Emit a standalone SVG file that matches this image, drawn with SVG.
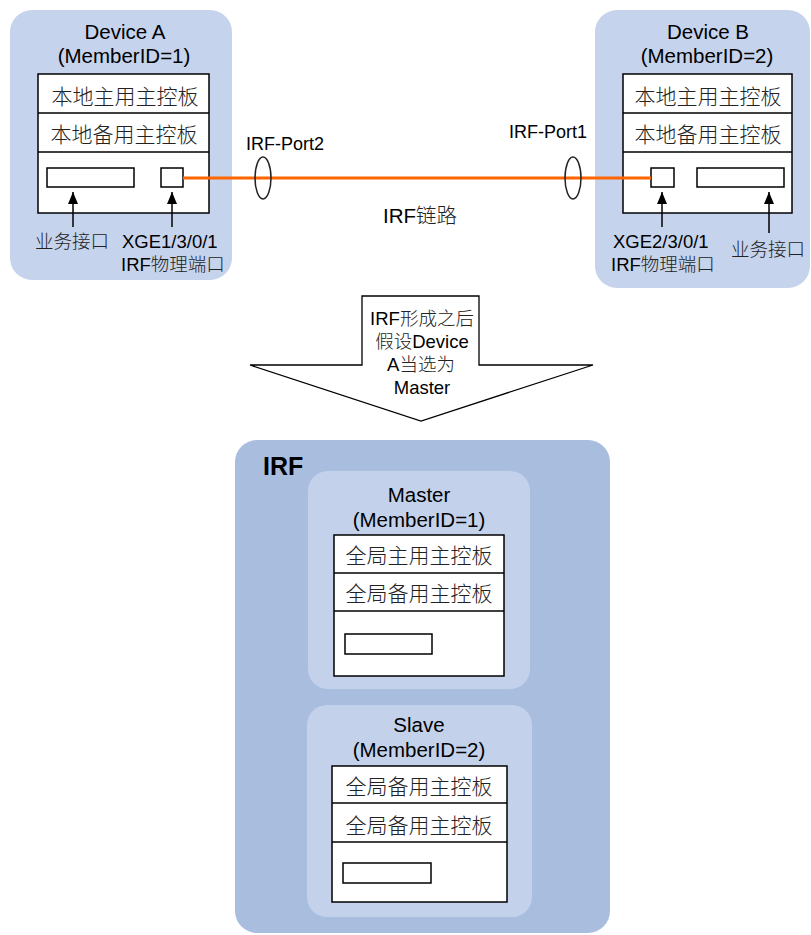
<svg xmlns="http://www.w3.org/2000/svg" width="811" height="935" viewBox="0 0 811 935">
<style>
.t{font-family:"Liberation Sans","Noto Sans CJK SC",sans-serif;fill:#000}
.c{text-anchor:middle}
.dev{fill:#C5D3EC}
.box{fill:#fff;stroke:#000;stroke-width:1.5}
.ln{stroke:#000;stroke-width:1.5;fill:none}
.cn{font-family:"Noto Sans CJK SC","Liberation Sans",sans-serif;font-weight:300;fill:#222}
</style>
<defs>
<marker id="ah" viewBox="0 0 12 10" refX="12" refY="5" markerWidth="12" markerHeight="10" markerUnits="userSpaceOnUse" orient="auto">
<path d="M0,0 L12,5 L0,10 Z" fill="#000"/>
</marker>
</defs>
<rect width="811" height="935" fill="#fff"/>

<g id="deviceA">
<rect class="dev" x="10" y="10" width="222" height="270" rx="22"/>
<text class="t c" x="125" y="39" font-size="20.5">Device A</text>
<text class="t c" x="124" y="63" font-size="20.5">(MemberID=1)</text>
<rect class="box" x="38" y="74" width="171" height="139"/>
<line class="ln" x1="38" y1="113" x2="209" y2="113"/>
<line class="ln" x1="38" y1="152" x2="209" y2="152"/>
<text class="cn c" x="125" y="104" font-size="21">本地主用主控板</text>
<text class="cn c" x="124" y="142" font-size="21">本地备用主控板</text>
<rect class="box" x="47" y="168" width="87" height="19"/>
<rect class="box" x="161" y="168" width="22" height="19"/>
<line class="ln" x1="73" y1="227" x2="73" y2="192" marker-end="url(#ah)"/>
<line class="ln" x1="172" y1="227" x2="172" y2="192" marker-end="url(#ah)"/>
<text class="cn" x="35" y="248" font-size="18.5">业务接口</text>
<text class="t" x="122" y="248" font-size="18.5">XGE1/3/0/1</text>
<text class="t" x="121" y="271" font-size="18.5">IRF<tspan class="cn">物理端口</tspan></text>
</g>

<g id="deviceB">
<rect class="dev" x="595" y="10" width="215" height="278" rx="22"/>
<text class="t c" x="708" y="39" font-size="20.5">Device B</text>
<text class="t c" x="707" y="63" font-size="20.5">(MemberID=2)</text>
<rect class="box" x="623" y="74" width="169" height="139"/>
<line class="ln" x1="623" y1="113" x2="792" y2="113"/>
<line class="ln" x1="623" y1="152" x2="792" y2="152"/>
<text class="cn c" x="708" y="104" font-size="21">本地主用主控板</text>
<text class="cn c" x="708" y="142" font-size="21">本地备用主控板</text>
<rect class="box" x="651" y="168" width="23" height="19"/>
<rect class="box" x="697" y="168" width="87" height="19"/>
<line class="ln" x1="662" y1="227" x2="662" y2="192" marker-end="url(#ah)"/>
<line class="ln" x1="769" y1="233" x2="769" y2="192" marker-end="url(#ah)"/>
<text class="t" x="613" y="248" font-size="18.5">XGE2/3/0/1</text>
<text class="t" x="611" y="271" font-size="18.5">IRF<tspan class="cn">物理端口</tspan></text>
<text class="cn" x="731" y="256" font-size="18.5">业务接口</text>
</g>

<g id="connectors">
<line x1="183" y1="178" x2="651" y2="178" stroke="#FF6600" stroke-width="3"/>
<ellipse cx="263" cy="178" rx="8" ry="21" fill="none" stroke="#222" stroke-width="1.5"/>
<ellipse cx="573" cy="178" rx="8" ry="21" fill="none" stroke="#222" stroke-width="1.5"/>
</g>
<text class="t" x="246" y="150" font-size="18">IRF-Port2</text>
<text class="t" x="509" y="138" font-size="18">IRF-Port1</text>
<text class="t" x="383" y="223" font-size="20.5">IRF<tspan class="cn">链路</tspan></text>

<g id="bigArrow">
<path d="M362,296 L479,296 L479,365 L593,365 L421,421 L250,365 L362,365 Z" fill="#fff" stroke="#000" stroke-width="1.3"/>
<text class="t c" x="422" y="325" font-size="18.5">IRF<tspan class="cn">形成之后</tspan></text>
<text class="t c" x="422" y="348" font-size="18.5"><tspan class="cn">假设</tspan>Device</text>
<text class="t c" x="421" y="371" font-size="18.5">A<tspan class="cn">当选为</tspan></text>
<text class="t c" x="422" y="394" font-size="18.5">Master</text>
</g>

<g id="irf">
<rect x="235" y="440" width="375" height="493" rx="22" fill="#A9BDDF"/>
<text class="t" x="263" y="475" font-size="25" font-weight="bold">IRF</text>
</g>

<g id="master">
<rect x="308" y="471" width="222" height="218" rx="20" fill="#C3D1EB"/>
<text class="t c" x="419" y="502" font-size="20.5">Master</text>
<text class="t c" x="419" y="527" font-size="20.5">(MemberID=1)</text>
<rect class="box" x="334" y="535" width="170" height="141"/>
<line class="ln" x1="334" y1="573" x2="504" y2="573"/>
<line class="ln" x1="334" y1="611" x2="504" y2="611"/>
<text class="cn c" x="419" y="563" font-size="21">全局主用主控板</text>
<text class="cn c" x="419" y="601" font-size="21">全局备用主控板</text>
<rect class="box" x="345" y="634" width="87" height="20"/>
</g>

<g id="slave">
<rect x="307" y="705" width="225" height="212" rx="20" fill="#C3D1EB"/>
<text class="t c" x="419" y="732" font-size="20.5">Slave</text>
<text class="t c" x="419" y="757" font-size="20.5">(MemberID=2)</text>
<rect class="box" x="332" y="766" width="175" height="136"/>
<line class="ln" x1="332" y1="803" x2="507" y2="803"/>
<line class="ln" x1="332" y1="842" x2="507" y2="842"/>
<text class="cn c" x="419" y="794" font-size="21">全局备用主控板</text>
<text class="cn c" x="419" y="833" font-size="21">全局备用主控板</text>
<rect class="box" x="343" y="863" width="88" height="20"/>
</g>
</svg>
